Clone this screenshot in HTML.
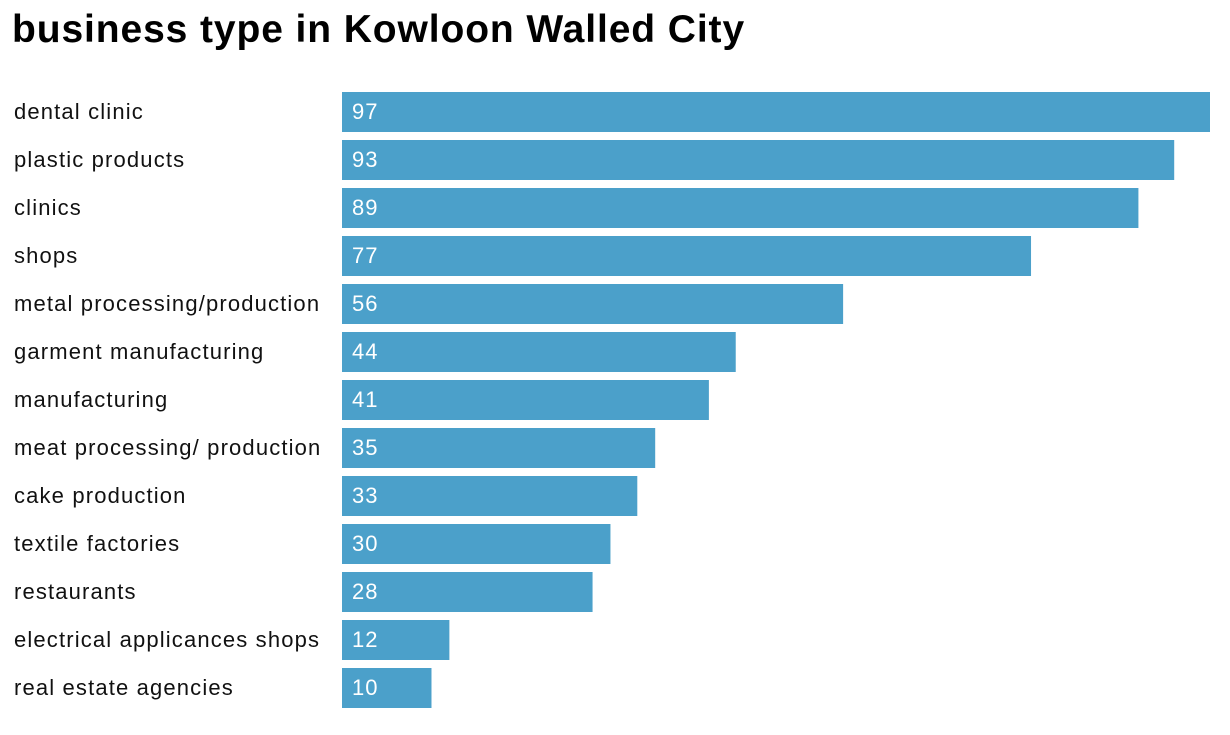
<!DOCTYPE html>
<html><head><meta charset="utf-8">
<style>
html,body{margin:0;padding:0;background:#fff;}
body{width:1230px;height:730px;overflow:hidden;font-family:"Liberation Sans",Arial,sans-serif;}
</style></head>
<body>
<svg id="chart" width="1230" height="730" xmlns="http://www.w3.org/2000/svg">
<text x="12" y="42" font-family="Liberation Sans, Arial, sans-serif" font-weight="bold" font-size="39" letter-spacing="0.9" fill="#000">business type in Kowloon Walled City</text>
<g id="bars"></g>
</svg>
<script>
const categories = ["dental clinic","plastic products","clinics","shops","metal processing/production","garment manufacturing","manufacturing","meat processing/ production","cake production","textile factories","restaurants","electrical applicances shops","real estate agencies"];
const values = [97,93,89,77,56,44,41,35,33,30,28,12,10];

const x0 = 342, x1 = 1210, maxV = 97;
function xScale(v){ return x0 + (v / maxV) * (x1 - x0); }
function yScale(i){ return 92 + i * 48; }
const barH = 40;
const ns = "http://www.w3.org/2000/svg";
const g = document.getElementById("bars");
categories.forEach((c, i) => {
  const y = yScale(i);
  const lab = document.createElementNS(ns, "text");
  
  
  lab.setAttribute("x", 14); lab.setAttribute("y", y + 27);
  lab.setAttribute("font-size", "22"); lab.setAttribute("fill", "#111");
  lab.setAttribute("letter-spacing", "1.15");
  lab.textContent = c;
  g.appendChild(lab);
  const r = document.createElementNS(ns, "rect");
  
  
  r.setAttribute("x", x0); r.setAttribute("y", y);
  r.setAttribute("width", xScale(values[i]) - x0); r.setAttribute("height", barH);
  r.setAttribute("fill", "#4ba0ca");
  g.appendChild(r);
  const v = document.createElementNS(ns, "text");
  
  
  v.setAttribute("x", 352); v.setAttribute("y", y + 27);
  v.setAttribute("font-size", "22"); v.setAttribute("fill", "#fff");
  v.setAttribute("letter-spacing", "1");
  v.textContent = values[i];
  g.appendChild(v);
});
</script>
</body></html>
